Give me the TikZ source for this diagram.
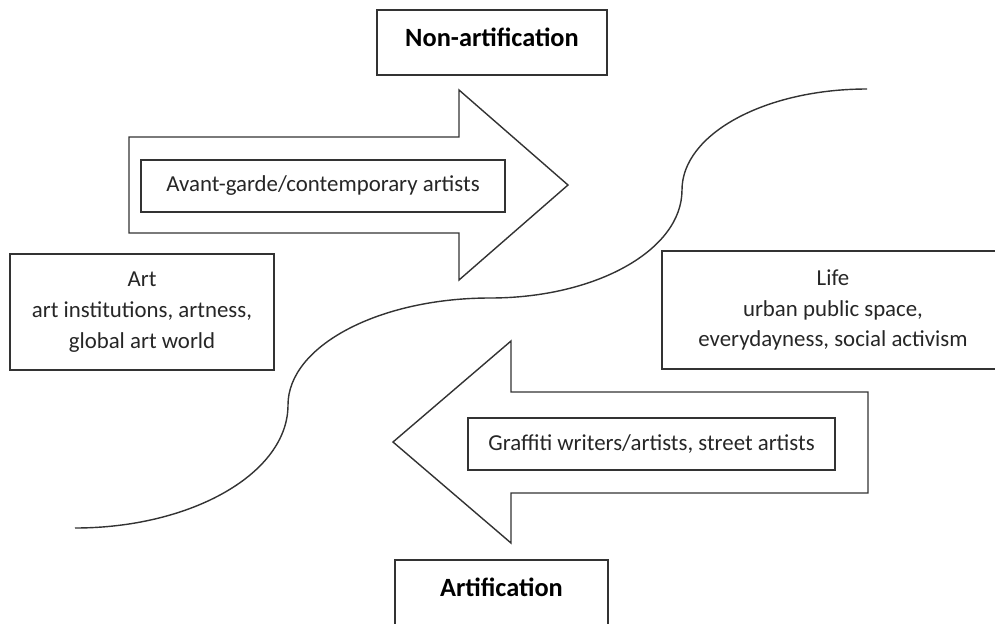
\documentclass[tikz,border=0pt]{standalone}
\usepackage{fontspec}
\setmainfont{Carlito}
\begin{document}
\begin{tikzpicture}[x=0.02cm,y=-0.02cm,
  ln/.style={draw=black!80,line width=0.8pt},
  box/.style={ln,inner sep=0pt,align=center,font=\fontsize{13}{17.6}\selectfont,text=black!85},
  head/.style={inner sep=0pt,font=\bfseries\fontsize{15}{18}\selectfont,text=black}]
\useasboundingbox (0,0) rectangle (995,623);
\clip (0,0) rectangle (995,623);
% boxes
\node[ln,minimum width=4.6cm,minimum height=1.3cm] (nonbox) at (492,42.5) {};
\node[head] (non) at (492,37) {Non-artification};
\node[ln,minimum width=4.26cm,minimum height=1.32cm] (artifbox) at (501.5,593) {};
\node[head] (artif) at (501.5,587) {Artification};
\node[box,minimum width=5.28cm,minimum height=2.32cm] (art) at (142,312) {Art\\art institutions, artness,\\global art world};
\node[box,minimum width=6.84cm,minimum height=2.36cm] (life) at (833,310) {Life\\urban public space,\\everydayness, social activism};
% top arrow
\draw[ln] (129,137) -- (459,137) -- (459,90) -- (568,185) -- (459,280) -- (459,233) -- (129,233) -- cycle;
\node[box,minimum width=7.28cm,minimum height=1.04cm] (avant) at (323,186) {Avant-garde/contemporary artists};
% bottom arrow
\draw[ln] (868,392) -- (511,392) -- (511,341) -- (393,442) -- (511,543) -- (511,493) -- (868,493) -- cycle;
\node[box,minimum width=7.34cm,minimum height=1.04cm] (graf) at (651.5,444) {Graffiti writers/artists, street artists};
% S curve
\draw[ln] (75,528) .. controls (192,528) and (288,473) .. (288,405)
  .. controls (288,346) and (379,298) .. (490,298)
  .. controls (596,298) and (682,250) .. (682,190)
  .. controls (682,134) and (765,89) .. (867,89);
\end{tikzpicture}
\end{document}
